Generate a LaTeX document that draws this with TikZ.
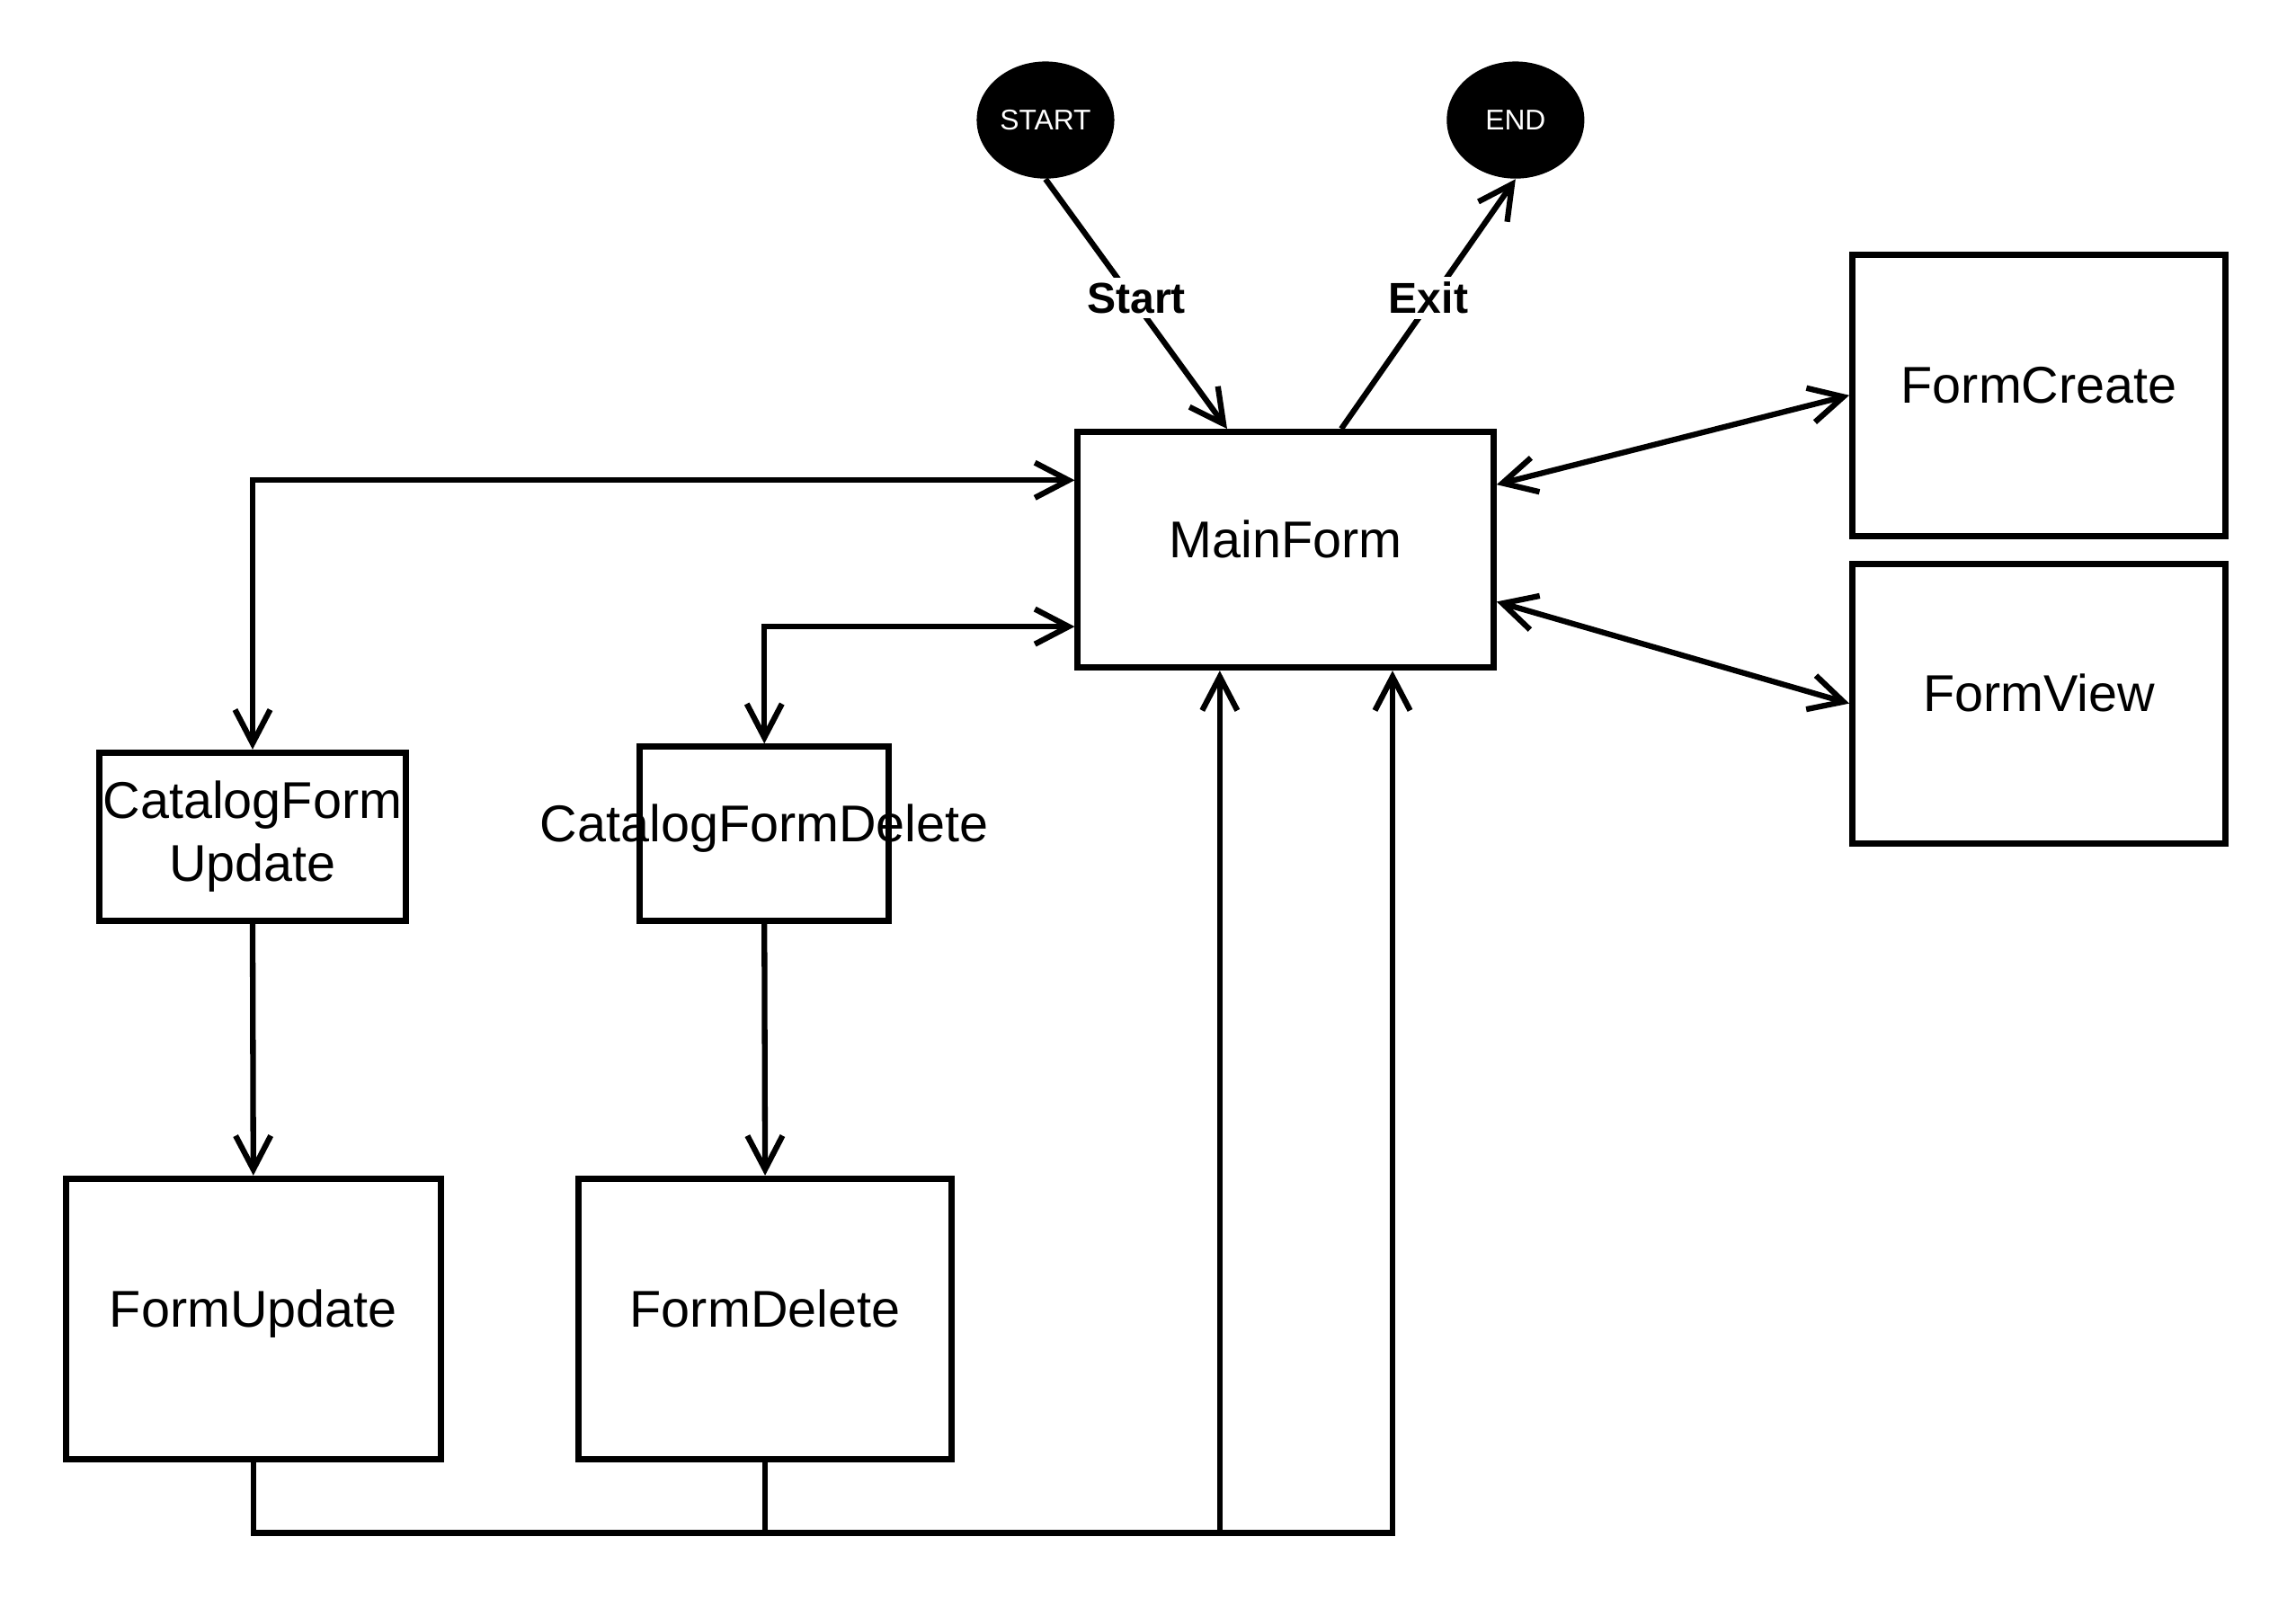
\documentclass[tikz,border=0pt]{standalone}
\usepackage{fontspec}
\setmainfont{Liberation Sans}
\usepackage{tikz}
\usetikzlibrary{arrows.meta,shapes.geometric,positioning,calc}

\begin{document}
\begin{tikzpicture}[x=0.02cm, y=-0.02cm,
  >={Straight Barb[length=4.6mm,width=4.8mm]},
  box/.style={draw, line width=2.4pt, rectangle, inner sep=0pt, align=center,
    font=\fontsize{20.1}{24.5}\selectfont},
  oneline/.style={text height=0.8em, text depth=0.2em},
  term/.style={ellipse, fill=black, text=white, inner sep=0pt,
    minimum width=1.88cm, minimum height=1.6cm, font=\fontsize{11.1}{13}\selectfont},
  conn/.style={line width=2.2pt},
  lbl/.style={fill=white, inner sep=2pt, yshift=0.08cm, font=\bfseries\fontsize{16.8}{20}\selectfont}]

  \useasboundingbox (0,0) rectangle (1568,1092);

  % Nodes
  \node[term] (start) at (714,82) {START};
  \node[term] (finish) at (1035,82) {END};
  \node[box, oneline, minimum width=5.68cm, minimum height=3.22cm] (main) at (878,375.5) {MainForm};
  \node[box, oneline, minimum width=5.1cm, minimum height=3.84cm] (create) at (1392.5,270) {FormCreate};
  \node[box, oneline, minimum width=5.1cm, minimum height=3.82cm] (view) at (1392.5,480.5) {FormView};
  \node[box, minimum width=4.18cm, minimum height=2.3cm] (catupd) at (172.5,571.5) {CatalogForm\\Update};
  \node[box, oneline, minimum width=3.4cm, minimum height=2.38cm] (catdel) at (522,569.5) {\makebox[0pt]{CatalogFormDelete}};
  \node[box, oneline, minimum width=5.12cm, minimum height=3.84cm] (upd) at (173,901) {FormUpdate};
  \node[box, oneline, minimum width=5.1cm, minimum height=3.84cm] (del) at (522.5,901) {FormDelete};

  % Edges
  \draw[conn,->] (start.south) -- node[lbl] {Start} ([xshift=-0.8cm]main.north);
  \draw[conn,->] ([xshift=0.76cm]main.north) -- node[lbl] {Exit} (finish.south);
  \draw[conn,<->] ([yshift=0.89cm]main.east) -- (create.west);
  \draw[conn,<->] ([yshift=-0.71cm]main.east) -- (view.west);
  \draw[conn,<->] ([yshift=0.95cm]main.west) -| (catupd.north);
  \draw[conn,<->] ([yshift=-1.05cm]main.west) -| (catdel.north);
  \draw[conn,->] (catupd.south) -- (upd.north);
  \draw[conn,->] (catdel.south) -- (del.north);

  % Back to the main form along the bottom
  \draw[conn,->] (upd.south) -- ++(0,48) -| ([xshift=1.46cm]main.south);
  \draw[conn,->] (del.south) -- ++(0,48) -| ([xshift=-0.9cm]main.south);

\end{tikzpicture}
\end{document}
